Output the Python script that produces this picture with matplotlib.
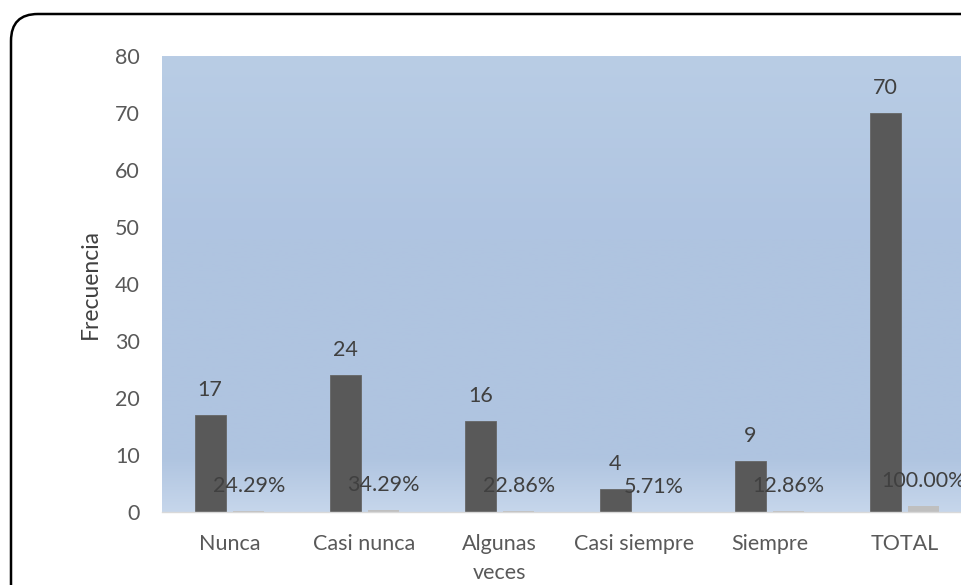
import matplotlib
matplotlib.use("Agg")
import matplotlib.pyplot as plt
import numpy as np
from matplotlib.patches import FancyBboxPatch
from matplotlib.colors import LinearSegmentedColormap

categories = ["Nunca", "Casi nunca", "Algunas\nveces", "Casi siempre", "Siempre", "TOTAL"]
frecuencia = [17, 24, 16, 4, 9, 70]
porcentaje = [0.2429, 0.3429, 0.2286, 0.0571, 0.1286, 1.0]
pct_labels = ["24.29%", "34.29%", "22.86%", "5.71%", "12.86%", "100.00%"]

plt.rcParams['font.family'] = ['Lato', 'DejaVu Sans']

W, H = 961, 585
fig = plt.figure(figsize=(W / 100, H / 100), dpi=100)
fig.patch.set_facecolor('white')

# rounded frame
frame = FancyBboxPatch((11 / W, -0.2), 1.2, (H - 14) / H + 0.2,
                       boxstyle="round,pad=0,rounding_size=0.028",
                       transform=fig.transFigure, facecolor='white',
                       edgecolor='black', linewidth=1.8, zorder=0,
                       mutation_aspect=W / H)
fig.patches.append(frame)

ax = fig.add_axes([162 / W, (H - 512) / H, 810 / W, 456 / H])
ax.set_zorder(1)

# gradient background
cmap = LinearSegmentedColormap.from_list(
    "bg", [(0.0, "#c6d6eb"), (0.12, "#afc4e0"), (0.6, "#afc4e1"), (1.0, "#b9cde5")])
grad = np.linspace(0, 1, 256).reshape(-1, 1)
ax.imshow(grad, aspect='auto', cmap=cmap, origin='lower',
          extent=[-0.5, len(categories) - 0.5, 0, 80], zorder=0)

x = np.arange(len(categories))
bw = 0.23
off = 0.143
fs = 15.5
b1 = ax.bar(x - off, frecuencia, width=bw, color='#595959', edgecolor='#666666',
            linewidth=0.6, zorder=2)
b2 = ax.bar(x + off, porcentaje, width=bw, color='#bfbfbf', zorder=2)

for xi, v in zip(x, frecuencia):
    ax.annotate(str(v), (xi - off, v), xytext=(0, 18), textcoords='offset points',
                ha='center', va='center', fontsize=fs, color='#404040', zorder=3)
for xi, v, lab in zip(x, porcentaje, pct_labels):
    ax.annotate(lab, (xi + off, v), xytext=(0, 18), textcoords='offset points',
                ha='center', va='center', fontsize=fs, color='#404040', zorder=3,
                annotation_clip=False)

ax.set_xlim(-0.5, len(categories) - 0.5)
ax.set_ylim(0, 80)
ax.set_yticks(range(0, 81, 10))
ax.set_xticks(x)
ax.set_xticklabels(categories, fontsize=fs, color='#595959', linespacing=1.55)
ax.tick_params(axis='y', labelsize=fs, labelcolor='#595959', length=0, pad=16)
ax.tick_params(axis='x', length=0, pad=16)
for s in ['top', 'right', 'left']:
    ax.spines[s].set_visible(False)
ax.spines['bottom'].set_color('#d9d9d9')
ax.spines['bottom'].set_linewidth(1.0)

ax.set_ylabel("Frecuencia", fontsize=16.5, color='#404040', labelpad=10)

fig.savefig("out.png", dpi=100)
